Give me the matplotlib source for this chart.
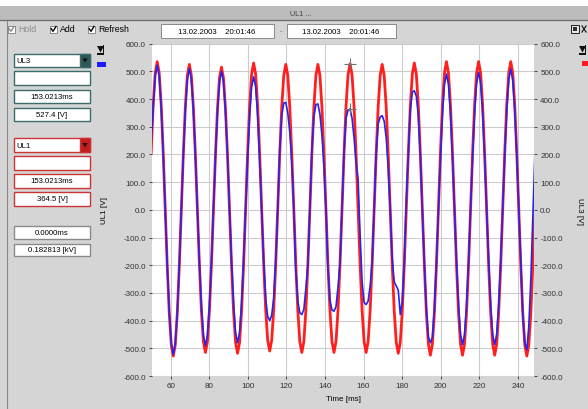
import numpy as np
import matplotlib
matplotlib.use('Agg')
import matplotlib.pyplot as plt
from matplotlib.patches import Rectangle, Polygon
from matplotlib.lines import Line2D

# ---------------- data ----------------
t_start_ms = 49.875          # time of first sample [ms]
sample_interval_ms = 1.0417  # sampling interval [ms]

# UL3 trace (red), one row per mains cycle
ul3_red = [
    205, 378, 494, 535, 494, 378, 205, 0, -202, -373, -488, -528, -488, -373, -202, 0,
    201, 371, 485, 525, 485, 371, 201, 0, -197, -364, -476, -515, -476, -364, -197, 0,
    197, 364, 476, 515, 476, 364, 197, 0, -198, -366, -479, -518, -479, -366, -198, 0,
    203, 375, 490, 530, 490, 375, 203, 0, -195, -361, -471, -510, -471, -361, -195, 0,
    201, 371, 485, 525, 485, 371, 201, 0, -197, -364, -476, -515, -476, -364, -197, 0,
    201, 371, 485, 525, 485, 371, 201, 0, -197, -364, -476, -515, -476, -364, -197, 0,
    202, 373, 487, 527, 487, 373, 202, 0, -197, -364, -476, -515, -476, -364, -197, 0,
    201, 371, 485, 525, 485, 371, 201, 0, -198, -366, -479, -518, -479, -366, -198, 0,
    203, 375, 490, 530, 490, 375, 203, 0, -201, -371, -485, -525, -485, -371, -201, 0,
    205, 378, 494, 535, 494, 378, 205, 0, -201, -371, -485, -525, -485, -371, -201, 0,
    205, 378, 494, 535, 494, 378, 205, 0, -201, -371, -485, -525, -485, -371, -201, 0,
    205, 378, 494, 535, 494, 378, 205, 0, -202, -373, -488, -528, -488, -373, -202, 0,
]

# UL1 trace (blue)
ul1_blue = [
    240, 368, 482, 522, 482, 368, 200, 0, -200, -369, -482, -522, -482, -369, -200, 0,
    195, 361, 471, 510, 471, 361, 195, 0, -188, -346, -453, -490, -453, -346, -188, 0,
    192, 354, 462, 500, 462, 354, 192, 0, -184, -339, -444, -480, -444, -339, -184, 0,
    184, 339, 444, 480, 444, 340, 180, 0, -180, -320, -385, -400, -380, -320, -185, 0,
    215, 340, 385, 388, 350, 280, 170, 10, -220, -330, -372, -378, -360, -285, -200, 0,
    215, 335, 380, 382, 345, 270, 160, 5, -215, -325, -362, -366, -350, -280, -195, 0,
    210, 330, 360, 364, 330, 260, 170, 110, -90, -260, -335, -342, -330, -275, -190, 0,
    205, 310, 335, 340, 320, 260, 150, 0, -180, -260, -275, -290, -378, -330, -190, 30,
    200, 360, 425, 430, 410, 340, 190, 0, -195, -360, -460, -480, -460, -355, -190, 0,
    188, 346, 453, 490, 453, 346, 188, 0, -186, -344, -450, -487, -450, -344, -186, 0,
    190, 351, 458, 496, 458, 351, 190, 0, -186, -344, -450, -487, -450, -344, -186, 0,
    195, 359, 469, 508, 469, 359, 195, 0, -195, -380, -480, -505, -420, -250, -20, 200,
]

x_ticks = [60, 80, 100, 120, 140, 160, 180, 200, 220, 240]
x_tick_labels = ['60', '80', '100', '120', '140', '160', '180', '200', '220', '240']
y_ticks = [-600, -500, -400, -300, -200, -100, 0, 100, 200, 300, 400, 500, 600]
y_tick_labels = ['-600.0', '-500.0', '-400.0', '-300.0', '-200.0', '-100.0', '0.0',
                 '100.0', '200.0', '300.0', '400.0', '500.0', '600.0']
x_range = (50.3, 248.4)
y_range = (-600, 600)

cursor_time = 153.0213
cursor_ul3 = 527.4
cursor_ul1 = 364.5

title = 'UL1 ...'
date_from = '13.02.2003    20:01:46'
date_to = '13.02.2003    20:01:46'
ch_a = 'UL3'
ch_b = 'UL1'
cursor_time_txt = '153.0213ms'
ul3_txt = '527.4 [V]'
ul1_txt = '364.5 [V]'
delta_time_txt = '0.0000ms'
delta_val_txt = '0.182813 [kV]'

# ---------------- figure ----------------
W, H = 588, 410
FONT = ['Liberation Sans', 'DejaVu Sans']
fig = plt.figure(figsize=(W / 100, H / 100), dpi=100, facecolor='#d5d5d5')


def fx(x):
    return x / W


def fy(y):
    return 1 - y / H


def rect(x0, y0, x1, y1, fc='white', ec='none', lw=0.8, z=1):
    fig.patches.append(Rectangle((fx(x0), fy(y1)), (x1 - x0) / W, (y1 - y0) / H,
                                 transform=fig.transFigure, facecolor=fc,
                                 edgecolor=ec, linewidth=lw, zorder=z))


def poly(pts, fc, z=2):
    fig.patches.append(Polygon([(fx(a), fy(b)) for a, b in pts], closed=True,
                               transform=fig.transFigure, facecolor=fc,
                               edgecolor='none', zorder=z))


def line(xs, ys, color, lw=0.8, z=2):
    fig.lines.append(Line2D([fx(a) for a in xs], [fy(b) for b in ys],
                            transform=fig.transFigure, color=color,
                            linewidth=lw, zorder=z))


def text(x, y, s, size=5.8, ha='left', color='black', **kw):
    fig.text(fx(x), fy(y), s, fontsize=size, ha=ha, va='center', color=color,
             family=FONT, **kw)


# window chrome
rect(0, 0, W, 7, fc='white')
rect(0, 7, W, 21, fc='#bcbcbc')
line([0, W], [21, 21], '#6a6a6a', lw=0.9)
text(290, 14, title, size=5.2, color='#404040')
line([6.5, 6.5], [22, H], '#8a8a8a', lw=0.8)


def checkbox(x, y, label, col):
    rect(x, y - 3.5, x + 7, y + 3.5, fc='white', ec='#7a7a7a', lw=0.6)
    line([x + 1.2, x + 3, x + 6], [y - 0.3, y + 2.3, y - 2.5], col, lw=1.0, z=3)
    text(x + 10, y, label, size=6.3, color=col)


checkbox(8, 30, 'Hold', '#8c8c8c')
checkbox(50, 30, 'Add', 'black')
checkbox(88, 30, 'Refresh', 'black')

rect(161, 25, 274, 39, fc='white', ec='#8a8a8a', lw=0.7)
text(217, 32, date_from, size=5.6, ha='center')
text(281, 32, '-', size=5.6, ha='center', color='#707070')
rect(287, 25, 396, 39, fc='white', ec='#8a8a8a', lw=0.7)
text(341, 32, date_to, size=5.6, ha='center')

# top right icons
rect(571, 26, 579, 34, fc='#e8e8e8', ec='#202020', lw=0.7)
rect(573, 28, 577, 32, fc='#303030')
line([582, 586], [27, 33], '#202020', lw=0.9)
line([582, 586], [33, 27], '#202020', lw=0.9)

# channel boxes
teal = '#3b6b6b'
red_b = '#cc3333'
gray_b = '#8a8a8a'


def field(y0, y1, ec, s=None, dropdown=None):
    rect(14, y0, 90, y1, fc='white', ec=ec, lw=1.0)
    if dropdown is not None:
        rect(80, y0, 90, y1, fc=dropdown, ec=ec, lw=1.0, z=2)
        yc = (y0 + y1) / 2
        poly([(82.3, yc - 2), (87.7, yc - 2), (85, yc + 2.2)], '#101010', z=3)
        text(16, yc, s, size=5.6)
    elif s is not None:
        text(52, (y0 + y1) / 2, s, size=5.6, ha='center')


field(55, 68, teal, ch_a, dropdown='#2e5757')
field(72, 86, teal)
field(91, 104, teal, cursor_time_txt)
field(109, 122, teal, ul3_txt)
field(139, 153, red_b, ch_b, dropdown='#c41c1c')
field(157, 171, red_b)
field(175, 189, red_b, cursor_time_txt)
field(193, 207, red_b, ul1_txt)
field(227, 240, gray_b, delta_time_txt)
field(245, 257, gray_b, delta_val_txt)


def dl_icon(x, y):
    rect(x, y + 8, x + 7, y + 9.5, fc='#101010')
    poly([(x, y + 1), (x + 7, y + 1), (x + 3.5, y + 7.5)], '#101010')
    rect(x + 5.5, y, x + 7, y + 9, fc='#101010')


dl_icon(97, 46)
rect(97, 63, 106, 68, fc='#1c1cff')
dl_icon(579, 46)
rect(582, 62, 592, 67, fc='#ff1c1c')

# ---------------- plot ----------------
top_px, bot_px, left_px, right_px = 44.6, 377.0, 152.0, 534.0
ax = fig.add_axes([fx(left_px), fy(bot_px), (right_px - left_px) / W,
                   (bot_px - top_px) / H])
ax.set_facecolor('white')
t = t_start_ms + sample_interval_ms * np.arange(len(ul3_red))
ax.plot(t, ul3_red, color='#ff1f1f', lw=2.0, zorder=3, solid_joinstyle='round')
ax.plot(t, ul1_blue, color='#2424f0', lw=1.2, zorder=4, solid_joinstyle='round')
ax.plot([cursor_time], [cursor_ul3], marker='+', ms=9, mew=0.8, color='#707070', zorder=6)
ax.plot([cursor_time], [cursor_ul1], marker='+', ms=9, mew=0.8, color='#707070', zorder=6)
ax.set_xlim(*x_range)
ax.set_ylim(*y_range)
ax.set_xticks(x_ticks)
ax.set_xticklabels(x_tick_labels)
ax.set_yticks(y_ticks)
ax.set_yticklabels(y_tick_labels)
ax.grid(True, color='#cccccc', lw=0.8, zorder=0)
ax.set_axisbelow(True)
ax.tick_params(direction='out', length=2.5, width=0.6, colors='#303030',
               labelsize=5.8, pad=2)
for sp in ax.spines.values():
    sp.set_visible(False)
for lab in ax.get_xticklabels() + ax.get_yticklabels():
    lab.set_family(FONT)

ax2 = ax.twinx()
ax2.set_ylim(*y_range)
ax2.set_yticks(y_ticks)
ax2.set_yticklabels(y_tick_labels)
ax2.tick_params(direction='out', length=2.5, width=0.6, colors='#303030',
                labelsize=5.8, pad=2)
for sp in ax2.spines.values():
    sp.set_visible(False)
for lab in ax2.get_yticklabels():
    lab.set_family(FONT)

text(104, 211, 'UL1 [V]', size=5.8, ha='center', rotation=90)
fig.text(fx(580), fy(211), 'UL3 [V]', fontsize=5.8, ha='center', va='center',
         rotation=-90, family=FONT)
text(343, 400, 'Time [ms]', size=5.8, ha='center')

fig.savefig('out.png', dpi=100, facecolor=fig.get_facecolor())
